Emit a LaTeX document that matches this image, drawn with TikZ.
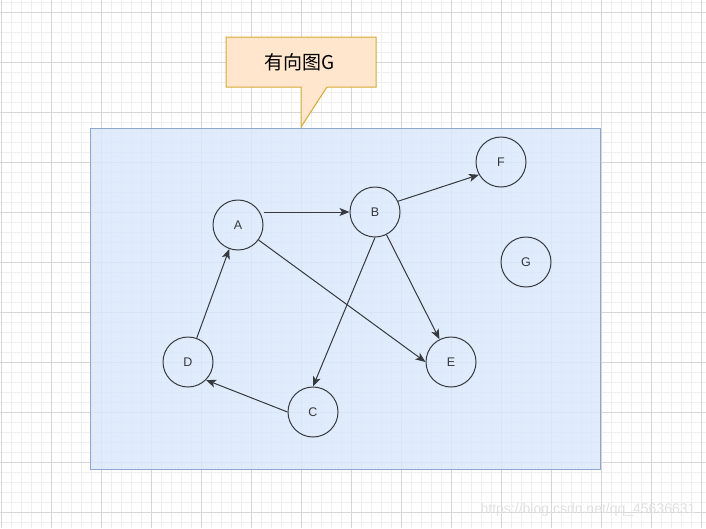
\documentclass[tikz,border=0pt]{standalone}
\usepackage{fontspec}
\setmainfont{Liberation Sans}
\newfontfamily\cjkfont{Noto Sans CJK SC}
\usetikzlibrary{arrows.meta}
\definecolor{gridminor}{HTML}{EFEFEF}
\definecolor{gridmajor}{HTML}{D6D6D6}
\definecolor{boxfill}{HTML}{DAE8FC}
\definecolor{boxline}{HTML}{8FA6CF}
\definecolor{notefill}{HTML}{FFE6CC}
\definecolor{noteline}{HTML}{D7A830}
\definecolor{edgecol}{HTML}{36393D}

\begin{document}
\begin{tikzpicture}[x=1pt, y=-1pt,
  vertex/.style={circle, draw=edgecol, line width=1pt, minimum size=50pt, inner sep=0pt,
    font=\fontsize{12.5}{14}\selectfont, text=edgecol},
  edge/.style={draw=edgecol, line width=1pt, -{Stealth[length=10pt, width=8pt, inset=2.5pt]}}]
\useasboundingbox (0,0) rectangle (706,528);
% background grid
\foreach \x in {1,11,...,701} \draw[gridminor, line width=0.6pt] (\x,0) -- (\x,528);
\foreach \y in {2,12,...,522} \draw[gridminor, line width=0.6pt] (0,\y) -- (706,\y);
\foreach \x in {1,51,...,701} \draw[gridmajor, line width=0.8pt] (\x,0) -- (\x,528);
\foreach \y in {12,62,...,512} \draw[gridmajor, line width=0.8pt] (0,\y) -- (706,\y);
% container
\draw[boxline, fill=boxfill, fill opacity=0.85, line width=0.8pt] (90,128) rectangle (600,469);
% callout
\draw[noteline, fill=notefill, line width=1pt] (226,37) -- (376,37) -- (376,87) -- (327,87)
  -- (301,127) -- (301,87) -- (226,87) -- cycle;
\node[font=\cjkfont\fontsize{19}{22}\selectfont, text=black] (title) at (300,62) {有向图G};
% vertices
\node[vertex] (A) at (238,225) {A};
\node[vertex] (B) at (375,212) {B};
\node[vertex] (C) at (313,412) {C};
\node[vertex] (D) at (188,362) {D};
\node[vertex] (E) at (451,362) {E};
\node[vertex] (F) at (501,162) {F};
\node[vertex] (G) at (526,262) {G};
% edges
\draw[edge] (A.east |- B.west) -- (B.west);
\draw[edge] (A) -- (E.west);
\draw[edge] (B.25) -- (F.210);
\draw[edge] (B.south) -- (C.north);
\draw[edge] (B) -- (E);
\draw[edge] (C.west) -- (D.south east);
\draw[edge] (D) -- (A);
% watermark
\node[anchor=east, text=black!12, font=\fontsize{14}{16}\selectfont] (mark) at (699,510) {https://blog.csdn.net/qq\_45636631};
\end{tikzpicture}
\end{document}
